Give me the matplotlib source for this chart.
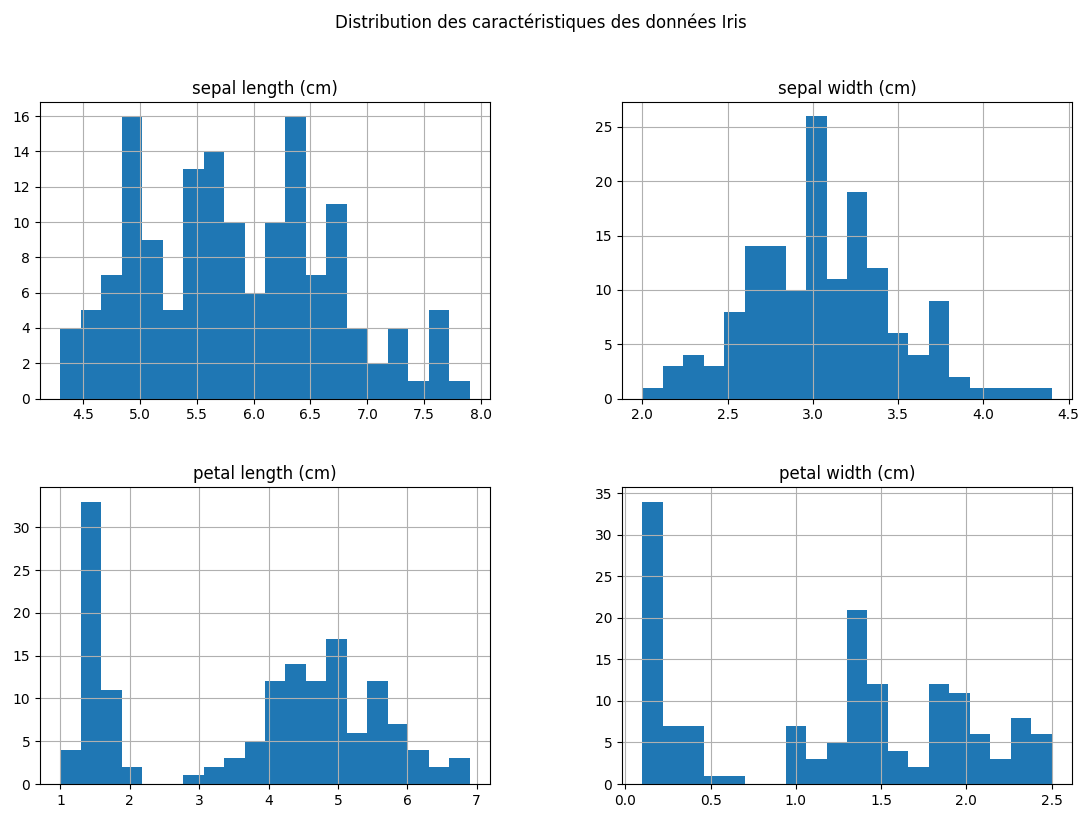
import numpy as np
import matplotlib
matplotlib.use("Agg")
import matplotlib.pyplot as plt

titles = ["sepal length (cm)", "sepal width (cm)", "petal length (cm)", "petal width (cm)"]
ranges = [(4.3, 7.9), (2.0, 4.4), (1.0, 6.9), (0.1, 2.5)]
sepal_length_counts = [4, 5, 7, 16, 9, 5, 13, 14, 10, 6, 10, 16, 7, 11, 4, 2, 4, 1, 5, 1]
sepal_width_counts = [1, 3, 4, 3, 8, 14, 14, 10, 26, 11, 19, 12, 6, 4, 9, 2, 1, 1, 1, 1]
petal_length_counts = [4, 33, 11, 2, 0, 0, 1, 2, 3, 5, 12, 14, 12, 17, 6, 12, 7, 4, 2, 3]
petal_width_counts = [34, 7, 7, 1, 1, 0, 0, 7, 3, 5, 21, 12, 4, 2, 12, 11, 6, 3, 8, 6]
all_counts = [sepal_length_counts, sepal_width_counts, petal_length_counts, petal_width_counts]

fig, axes = plt.subplots(2, 2, figsize=(10.81, 8.16), dpi=100)
fig.subplots_adjust(left=0.037, right=0.9917, top=0.875, bottom=0.0392, wspace=0.293, hspace=0.30)

for ax, title, (lo, hi), counts in zip(axes.flat, titles, ranges, all_counts):
    edges = np.linspace(lo, hi, len(counts) + 1)
    ax.hist(edges[:-1], bins=edges, weights=counts, color="#1f77b4")
    ax.grid(True)
    ax.set_title(title, fontsize=12)
    ax.tick_params(labelsize=10)

fig.suptitle("Distribution des caractéristiques des données Iris", fontsize=12, y=0.984)
fig.savefig("out.png", dpi=100)
